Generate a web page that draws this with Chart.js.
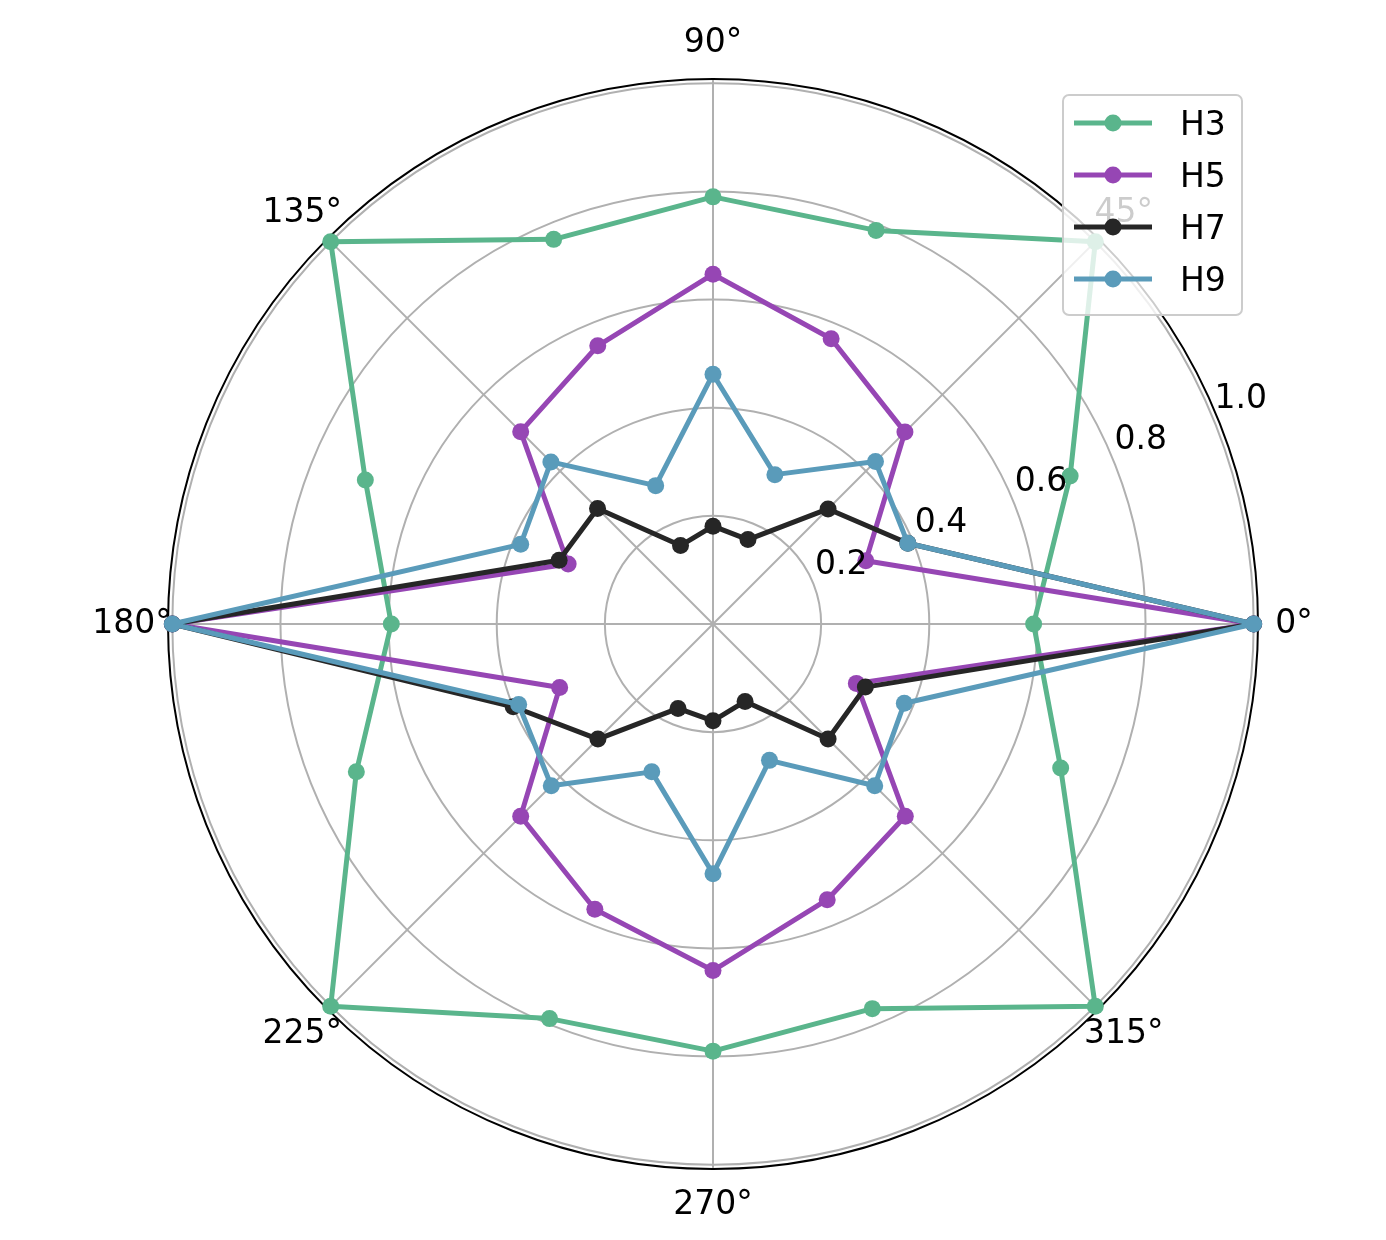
<!DOCTYPE html>
<html>
<head>
<meta charset="utf-8">
<script src="https://cdn.jsdelivr.net/npm/chart.js@4"></script>
<style>
  html, body { margin: 0; padding: 0; background: #fff; }
  #wrap { width: 1386px; height: 1240px; }
</style>
</head>
<body>
<div id="wrap"><canvas id="polarChart"></canvas></div>
<script>
// angles in degrees, counter-clockwise from east (same as the source plot)
const angles = [0, 22.5, 45, 67.5, 90, 112.5, 135, 157.5, 180, 202.5, 225, 247.5, 270, 292.5, 315, 337.5];
const angleLabels = ['0°', '', '45°', '', '90°', '', '135°', '', '180°', '', '225°', '', '270°', '', '315°', ''];
const radialTicks = [0.2, 0.4, 0.6, 0.8, 1.0];
const seriesNames = ['H3', 'H5', 'H7', 'H9'];
const seriesColors = ['#5ab58c', '#9646b4', '#262626', '#5a9bba'];

const h3 = [0.593, 0.715, 1.0, 0.788, 0.79, 0.77, 1.0, 0.696, 0.595, 0.714, 1.0, 0.79, 0.79, 0.77, 1.0, 0.696];
const h5 = [1.0, 0.306, 0.502, 0.571, 0.647, 0.557, 0.503, 0.29, 1.0, 0.307, 0.503, 0.571, 0.641, 0.552, 0.503, 0.287];
const h7 = [1.0, 0.39, 0.301, 0.169, 0.181, 0.157, 0.302, 0.308, 1.0, 0.40, 0.301, 0.169, 0.179, 0.155, 0.301, 0.305];
const h9 = [1.0, 0.39, 0.425, 0.299, 0.462, 0.277, 0.424, 0.385, 1.0, 0.389, 0.423, 0.296, 0.462, 0.273, 0.423, 0.383];
const seriesValues = [h3, h5, h7, h9];

const rMax = 1.008;   // outer frame sits just outside the 1.0 ring
const FONT = '33px "DejaVu Sans"';

// Chart.js goes clockwise from the start angle; the plot goes counter-clockwise
const n = angles.length;
const toChartOrder = arr => arr.map((_, i) => arr[(n - i) % n]);

const polarExtras = {
    id: 'polarExtras',
    beforeDatasetsDraw(chart) {
        const s = chart.scales.r;
        const ctx = chart.ctx;
        ctx.save();
        ctx.strokeStyle = '#000';
        ctx.lineWidth = 2;
        ctx.beginPath();
        ctx.arc(s.xCenter, s.yCenter, s.getDistanceFromCenterForValue(rMax), 0, Math.PI * 2);
        ctx.stroke();
        ctx.restore();
    },
    afterDatasetsDraw(chart) {
        const s = chart.scales.r;
        const ctx = chart.ctx;
        ctx.save();
        ctx.font = FONT;
        ctx.fillStyle = '#000';

        // radial tick labels along the 22.5 degree ray
        const tickIdx = (n - angles.indexOf(22.5)) % n;
        ctx.textAlign = 'left';
        ctx.textBaseline = 'alphabetic';
        radialTicks.forEach(v => {
            const p = s.getPointPosition(tickIdx, s.getDistanceFromCenterForValue(v));
            ctx.fillText(v.toFixed(1), p.x + 2, p.y - 9);
        });

        // angle labels
        ctx.textAlign = 'center';
        ctx.textBaseline = 'middle';
        const labelDist = s.getDistanceFromCenterForValue(rMax) + 36;
        angleLabels.forEach((lab, k) => {
            if (!lab) return;
            const p = s.getPointPosition((n - k) % n, labelDist);
            ctx.fillText(lab, p.x, p.y);
        });

        // legend box in the upper right
        const bx = 1063, by = 95, bw = 179, bh = 220, rowH = 52;
        ctx.beginPath();
        ctx.roundRect(bx, by, bw, bh, 6);
        ctx.fillStyle = 'rgba(255,255,255,0.8)';
        ctx.fill();
        ctx.strokeStyle = '#cccccc';
        ctx.lineWidth = 2;
        ctx.stroke();
        seriesNames.forEach((name, i) => {
            const y = by + 28 + i * rowH;
            ctx.strokeStyle = seriesColors[i];
            ctx.lineWidth = 5;
            ctx.beginPath();
            ctx.moveTo(bx + 11, y);
            ctx.lineTo(bx + 89, y);
            ctx.stroke();
            ctx.fillStyle = seriesColors[i];
            ctx.beginPath();
            ctx.arc(bx + 50, y, 8.5, 0, Math.PI * 2);
            ctx.fill();
            ctx.fillStyle = '#000';
            ctx.textAlign = 'left';
            ctx.textBaseline = 'alphabetic';
            ctx.fillText(name, bx + 117, y + 12);
        });
        ctx.restore();
    }
};

new Chart(document.getElementById('polarChart'), {
    type: 'radar',
    data: {
        labels: toChartOrder(angleLabels),
        datasets: seriesNames.map((name, i) => ({
            label: name,
            data: toChartOrder(seriesValues[i]),
            borderColor: seriesColors[i],
            backgroundColor: seriesColors[i],
            pointBackgroundColor: seriesColors[i],
            pointBorderWidth: 0,
            pointRadius: 8.5,
            borderWidth: 5,
            borderJoinStyle: 'round',
            fill: false,
            order: seriesNames.length - i
        }))
    },
    options: {
        responsive: true,
        maintainAspectRatio: false,
        animation: false,
        events: [],
        layout: { padding: { left: 168, right: 128, top: 79, bottom: 71 } },
        plugins: { legend: { display: false }, tooltip: { enabled: false } },
        scales: {
            r: {
                min: 0,
                max: rMax,
                startAngle: 90,
                ticks: { display: false, stepSize: 0.2, includeBounds: false },
                grid: { circular: true, color: '#b0b0b0', lineWidth: 2 },
                angleLines: { color: '#b0b0b0', lineWidth: c => (c.index % 2 === 0 ? 2 : 0) },
                pointLabels: { display: false }
            }
        }
    },
    plugins: [polarExtras]
});
</script>
</body>
</html>
